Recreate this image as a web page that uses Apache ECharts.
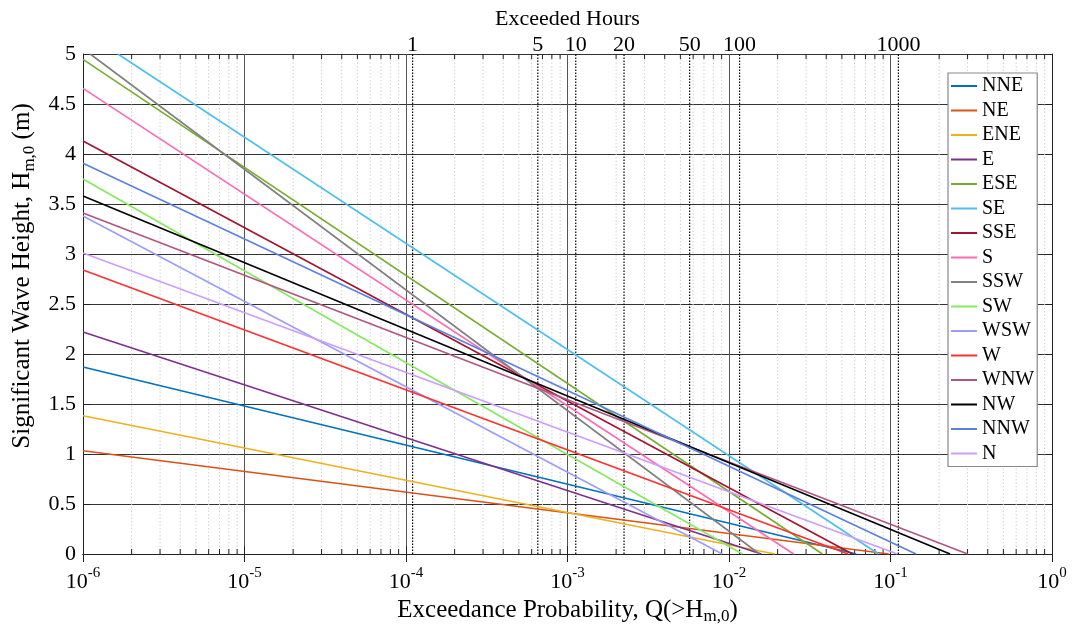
<!DOCTYPE html>
<html><head><meta charset="utf-8">
<script src="https://cdn.jsdelivr.net/npm/echarts@6/dist/echarts.min.js"></script>
<style>html,body{margin:0;padding:0;background:#fff}#c{width:1073px;height:633px}</style>
</head><body><div id="c"></div>
<script>
// ---- data ----
const directions = ['NNE','NE','ENE','E','ESE','SE','SSE','S','SSW','SW','WSW','W','WNW','NW','NNW','N'];
const colors = ['#0072BD','#D95319','#EDB120','#7E2F8E','#77AC30','#4DBEEE','#A2142F','#FF69B4','#808080','#86E861','#9C9CFF','#FF3030','#B0557F','#000000','#5B80E0','#CC9CFF'];
// first point of each line (exceedance probability, wave height)
const startQ = [1e-6,1e-6,1e-6,1e-6,1e-6,1.644e-6,1e-6,1e-6,1.107e-6,1e-6,1e-6,1e-6,1e-6,1e-6,1e-6,1e-6];
const startH = [1.87,1.033,1.383,2.22,4.947,5.0,4.13,4.657,5.0,3.75,3.38,2.84,3.41,3.58,3.907,3.01];
// probability at which each line reaches zero wave height
const endQ = [0.0614,0.0975,0.01923,0.01585,0.0379,0.0843,0.0581,0.0251,0.01545,0.01211,0.00908,0.0546,0.3006,0.2339,0.1439,0.1102];
const endH = [0,0,0,0,0,0,0,0,0,0,0,0,0,0,0,0];
// top axis: exceeded hours and their probability positions
const hourLabels = ['1','5','10','20','50','100','1000'];
const hourQ = [1.099e-4,6.55e-4,1.125e-3,2.239e-3,5.706e-3,1.163e-2,0.1119];
const yTicks = [0,0.5,1,1.5,2,2.5,3,3.5,4,4.5,5];

const FONT = "'Liberation Serif','Times New Roman',serif";
// minor log positions (2..9 x 10^k)
const minorQ = [];
for (let k = -6; k < 0; k++) for (let m = 2; m <= 9; m++) minorQ.push(m * Math.pow(10, k));

const chart = echarts.init(document.getElementById('c'), null, {renderer: 'canvas'});

const lineSeries = directions.map((d, i) => ({
  name: d, type: 'line', xAxisIndex: 0, yAxisIndex: 0,
  data: [[startQ[i], startH[i]], [endQ[i], endH[i]]],
  showSymbol: false, symbol: 'none', clip: true, z: 5,
  lineStyle: {color: colors[i], width: 1.6},
  itemStyle: {color: colors[i]}
}));

const gridSeries = {
  type: 'custom', xAxisIndex: 0, yAxisIndex: 0, silent: true, z: 1,
  data: minorQ.map(q => [q, 0]),
  renderItem: function (params, api) {
    const q = api.value(0);
    const b = api.coord([q, 0]);
    const t = api.coord([q, 5]);
    return {type: 'group', children: [
      {type: 'line', shape: {x1: b[0], y1: b[1], x2: t[0], y2: t[1]},
       style: {stroke: '#d2d2d2', lineWidth: 1, lineDash: [1.5, 2]}},
      {type: 'line', shape: {x1: b[0], y1: b[1], x2: b[0], y2: b[1] - 5},
       style: {stroke: '#222', lineWidth: 1}},
      {type: 'line', shape: {x1: t[0], y1: t[1], x2: t[0], y2: t[1] + 5},
       style: {stroke: '#222', lineWidth: 1}}
    ]};
  }
};

const hourSeries = {
  type: 'custom', xAxisIndex: 0, yAxisIndex: 0, silent: true, z: 3, clip: false,
  data: hourQ.map(q => [q, 0]),
  renderItem: function (params, api) {
    const q = api.value(0);
    const b = api.coord([q, 0]);
    const t = api.coord([q, 5]);
    return {type: 'group', children: [
      {type: 'line', shape: {x1: b[0], y1: b[1], x2: t[0], y2: t[1]},
       style: {stroke: '#000', lineWidth: 1.2, lineDash: [1.5, 1.5]}},
      {type: 'text', x: t[0], y: t[1] + 2,
       style: {text: hourLabels[params.dataIndex], fontSize: 22, fontFamily: FONT, fill: '#000',
               align: 'center', verticalAlign: 'bottom'}}
    ]};
  }
};

const option = {
  animation: false,
  backgroundColor: '#fff',
  grid: {left: 83, right: 21, top: 54, bottom: 79, containLabel: false, outerBoundsMode: 'none'},
  xAxis: [{
    type: 'log', logBase: 10, min: 1e-6, max: 1, position: 'bottom',
    name: 'Exceedance Probability, Q(>H{sub|m,0})',
    nameLocation: 'middle', nameGap: 40,
    nameTextStyle: {color: '#000', fontSize: 25, fontFamily: FONT, verticalAlign: 'top',
      rich: {sub: {fontSize: 17, fontFamily: FONT, color: '#000', verticalAlign: 'top', padding: [13, 0, 0, 0]}}},
    axisLine: {show: true, lineStyle: {color: '#222', width: 1}},
    axisTick: {show: true, inside: true, length: 8, lineStyle: {color: '#222'}},
    axisLabel: {margin: 12, color: '#000', fontFamily: FONT,
      formatter: function (v) { const e = Math.round(Math.log10(v)); return '{b|10}{e|' + e + '}'; },
      rich: {b: {fontSize: 22, fontFamily: FONT, color: '#000', verticalAlign: 'bottom'},
             e: {fontSize: 15, fontFamily: FONT, color: '#000', verticalAlign: 'bottom', padding: [0, 0, 12, 0]}}},
    splitLine: {show: true, lineStyle: {color: '#555', width: 1}},
    minorTick: {show: false}
  }, {
    type: 'log', logBase: 10, min: 1e-6, max: 1, position: 'top',
    name: 'Exceeded Hours', nameLocation: 'middle', nameGap: 24,
    nameTextStyle: {color: '#000', fontSize: 22, fontFamily: FONT},
    axisLine: {show: true, lineStyle: {color: '#222', width: 1}},
    axisTick: {show: true, inside: true, length: 8, lineStyle: {color: '#222'}},
    axisLabel: {show: false},
    splitLine: {show: false}
  }],
  yAxis: [{
    type: 'value', min: 0, max: 5, interval: 0.5, position: 'left',
    name: 'Significant Wave Height, H{sub|m,0} (m)',
    nameLocation: 'middle', nameGap: 45, nameRotate: 90,
    nameTextStyle: {color: '#000', fontSize: 25, fontFamily: FONT, verticalAlign: 'bottom',
      padding: [0, 0, 0, 56],
      rich: {sub: {fontSize: 17, fontFamily: FONT, color: '#000', verticalAlign: 'top', padding: [13, 0, 0, 0]}}},
    axisLine: {show: true, lineStyle: {color: '#222', width: 1}},
    axisTick: {show: true, inside: true, length: 8, lineStyle: {color: '#222'}},
    axisLabel: {margin: 7, color: '#000', fontSize: 22, fontFamily: FONT,
      formatter: function (v) { return yTicks.indexOf(v) >= 0 ? String(v) : ''; }},
    splitLine: {show: true, lineStyle: {color: '#333', width: 1}}
  }, {
    type: 'value', min: 0, max: 5, interval: 0.5, position: 'right',
    axisLine: {show: true, lineStyle: {color: '#222', width: 1}},
    axisTick: {show: true, inside: true, length: 8, lineStyle: {color: '#222'}},
    axisLabel: {show: false}, splitLine: {show: false}
  }],
  legend: {
    data: directions, orient: 'vertical', left: 948, top: 73,
    icon: 'rect', itemWidth: 26, itemHeight: 2, itemGap: 4.5,
    backgroundColor: '#fff', borderColor: '#888', borderWidth: 1.2, borderRadius: 0,
    padding: [3, 3, 3, 3],
    textStyle: {color: '#000', fontSize: 20, fontFamily: FONT, lineHeight: 20},
    selectedMode: false
  },
  series: [gridSeries, hourSeries].concat(lineSeries)
};
chart.setOption(option);
</script></body></html>
